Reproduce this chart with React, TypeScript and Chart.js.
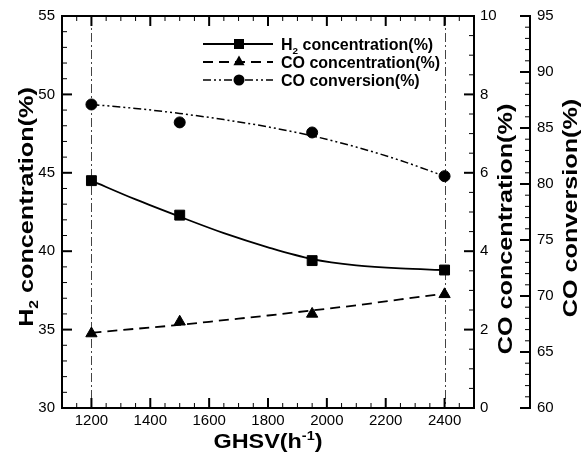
import React, { useEffect, useRef } from 'react';
import { Chart, registerables } from 'chart.js';

Chart.register(...registerables);

// ---------- data ----------
const ghsv = [1200, 1500, 1950, 2400];
const h2Conc = [44.5, 42.3, 39.4, 38.8];
const coConc = [1.9, 2.2, 2.4, 2.9];
const coConv = [87.1, 85.5, 84.6, 80.7];

// fitted trend curves
const fitGhsv = [1200, 1350, 1500, 1650, 1800, 1950, 2100, 2250, 2400];
const h2Fit = [44.5, 43.3, 42.2, 41.15, 40.25, 39.5, 39.1, 38.9, 38.8];
const coConcFit = [1.92, 2.02, 2.12, 2.24, 2.36, 2.49, 2.62, 2.77, 2.92];
const coConvFit = [87.1, 86.75, 86.3, 85.75, 85.1, 84.3, 83.3, 82.1, 80.7];

const refLines = [1200, 2400];
const xTickValues = [1200, 1400, 1600, 1800, 2000, 2200, 2400];

type Seg = { t: string; scale?: number; dy?: number };
const legendLabels: Seg[][] = [
  [{ t: 'H' }, { t: '2', scale: 0.62, dy: 4 }, { t: ' concentration(%)' }],
  [{ t: 'CO concentration(%)' }],
  [{ t: 'CO conversion(%)' }],
];
const xTitle: Seg[] = [{ t: 'GHSV(h' }, { t: '-1', scale: 0.62, dy: -8 }, { t: ')' }];
const yTitle: Seg[] = [{ t: 'H' }, { t: '2', scale: 0.62, dy: 5 }, { t: ' concentration(%)' }];
const y1Title: Seg[] = [{ t: 'CO concentration(%)' }];
const y2Title: Seg[] = [{ t: 'CO conversion(%)' }];

const FAM = "'Liberation Sans', Arial, Helvetica, sans-serif";

const styles = [
  { dash: [] as number[], width: 1.8, marker: 'rect' },
  { dash: [10, 6], width: 1.8, marker: 'triangle' },
  { dash: [8, 3, 2, 3, 2, 3], width: 1.5, marker: 'circle' },
];

function drawRich(ctx: CanvasRenderingContext2D, segs: Seg[], size: number, x: number, y: number, angle: number, stretch: number, align: 'center' | 'left' = 'center') {
  ctx.save();
  ctx.translate(x, y);
  ctx.rotate(angle);
  ctx.scale(stretch, 1);
  ctx.textBaseline = 'alphabetic';
  ctx.textAlign = 'left';
  ctx.fillStyle = '#000';
  const widths = segs.map((s) => {
    ctx.font = `bold ${size * (s.scale || 1)}px ${FAM}`;
    return ctx.measureText(s.t).width;
  });
  const total = widths.reduce((a, b) => a + b, 0);
  let cx = align === 'center' ? -total / 2 : 0;
  segs.forEach((s, i) => {
    ctx.font = `bold ${size * (s.scale || 1)}px ${FAM}`;
    ctx.fillText(s.t, cx, s.dy || 0);
    cx += widths[i];
  });
  ctx.restore();
}

function drawMarker(ctx: CanvasRenderingContext2D, kind: string, x: number, y: number) {
  ctx.beginPath();
  if (kind === 'rect') {
    ctx.rect(x - 5, y - 5, 10, 10);
  } else if (kind === 'triangle') {
    ctx.moveTo(x, y - 6.5);
    ctx.lineTo(x + 5.6, y + 3.3);
    ctx.lineTo(x - 5.6, y + 3.3);
    ctx.closePath();
  } else {
    ctx.arc(x, y, 5.5, 0, Math.PI * 2);
  }
  ctx.fill();
}

function tickRow(ctx: CanvasRenderingContext2D, scale: any, from: number, to: number, step: number, majorEvery: number, fixed: number, dir: number, horizontal: boolean) {
  const n = Math.round((to - from) / step);
  for (let i = 0; i <= n; i++) {
    const v = from + i * step;
    const r = v / majorEvery;
    const major = Math.abs(r - Math.round(r)) < 1e-6;
    const len = major ? 10 : 5;
    ctx.lineWidth = major ? 2 : 1;
    const p = scale.getPixelForValue(v);
    ctx.beginPath();
    if (horizontal) {
      ctx.moveTo(p, fixed);
      ctx.lineTo(p, fixed + dir * len);
    } else {
      ctx.moveTo(fixed, p);
      ctx.lineTo(fixed + dir * len, p);
    }
    ctx.stroke();
  }
}

const decorPlugin = {
  id: 'decor',
  beforeDatasetsDraw(chart: any) {
    const { ctx, chartArea: ca, scales } = chart;
    ctx.save();
    ctx.strokeStyle = '#444';
    ctx.lineWidth = 1;
    ctx.setLineDash([9, 3, 2, 3]);
    refLines.forEach((v) => {
      const px = Math.round(scales.x.getPixelForValue(v)) + 0.5;
      ctx.beginPath();
      ctx.moveTo(px, ca.top);
      ctx.lineTo(px, ca.bottom);
      ctx.stroke();
    });
    ctx.restore();
  },
  afterDatasetsDraw(chart: any) {
    const { ctx, chartArea: ca, scales } = chart;
    const { x, y, y1, y2 } = scales;
    ctx.save();
    ctx.strokeStyle = '#000';
    ctx.fillStyle = '#000';
    ctx.setLineDash([]);
    // frame
    ctx.lineWidth = 2;
    ctx.strokeRect(ca.left, ca.top, ca.right - ca.left, ca.bottom - ca.top);
    // detached CO conversion axis
    const ax2 = y2.left;
    ctx.beginPath();
    ctx.moveTo(ax2, ca.top - 1);
    ctx.lineTo(ax2, ca.bottom + 1);
    ctx.stroke();
    // ticks
    tickRow(ctx, x, 1100, 2500, 50, 200, ca.bottom, -1, true);
    tickRow(ctx, x, 1100, 2500, 50, 200, ca.top, 1, true);
    tickRow(ctx, y, 30, 55, 1, 5, ca.left, 1, false);
    tickRow(ctx, y1, 0, 10, 0.5, 2, ca.right, -1, false);
    tickRow(ctx, y2, 60, 95, 1, 5, ax2, -1, false);

    // axis titles
    const midY = (ca.top + ca.bottom) / 2;
    drawRich(ctx, xTitle, 20, (ca.left + ca.right) / 2, 448, 0, 1.17);
    drawRich(ctx, yTitle, 21, y.left + 33, midY - 5, -Math.PI / 2, 1.2);
    drawRich(ctx, y1Title, 21, y1.left + 38, midY + 17, -Math.PI / 2, 1.2);
    drawRich(ctx, y2Title, 21, y2.left + 47, midY - 4, -Math.PI / 2, 1.2);

    // legend
    const rows = [44, 62, 80];
    const x0 = 203, x1 = 273, xm = 239, xt = 281;
    rows.forEach((ry, i) => {
      const st = styles[i];
      ctx.lineWidth = st.width;
      ctx.setLineDash(st.dash);
      ctx.beginPath();
      ctx.moveTo(x0, ry);
      ctx.lineTo(x1, ry);
      ctx.stroke();
      ctx.setLineDash([]);
      drawMarker(ctx, st.marker, xm, ry);
      drawRich(ctx, legendLabels[i], 16, xt, ry + 6, 0, 1, 'left');
    });
    ctx.restore();
  },
};

export default function App() {
  const ref = useRef<HTMLCanvasElement | null>(null);
  useEffect(() => {
    if (!ref.current) return;
    const pts = (xs: number[], ys: number[]) => xs.map((v, i) => ({ x: v, y: ys[i] }));
    const tickFont = { family: FAM, size: 15 };
    const plain = (v: any) => String(v);
    const chart = new Chart(ref.current, {
      type: 'scatter',
      data: {
        datasets: [
          { label: 'H2 points', data: pts(ghsv, h2Conc), yAxisID: 'y', pointStyle: 'rect', pointRadius: 7, backgroundColor: '#000', borderColor: '#000', showLine: false },
          { label: 'CO conc points', data: pts(ghsv, coConc), yAxisID: 'y1', pointStyle: 'triangle', pointRadius: 6.5, backgroundColor: '#000', borderColor: '#000', showLine: false },
          { label: 'CO conv points', data: pts(ghsv, coConv), yAxisID: 'y2', pointStyle: 'circle', pointRadius: 5.5, backgroundColor: '#000', borderColor: '#000', showLine: false },
          { label: 'H2 fit', data: pts(fitGhsv, h2Fit), yAxisID: 'y', showLine: true, pointRadius: 0, borderColor: '#000', borderWidth: styles[0].width, borderDash: styles[0].dash, cubicInterpolationMode: 'monotone' },
          { label: 'CO conc fit', data: pts(fitGhsv, coConcFit), yAxisID: 'y1', showLine: true, pointRadius: 0, borderColor: '#000', borderWidth: styles[1].width, borderDash: styles[1].dash, cubicInterpolationMode: 'monotone' },
          { label: 'CO conv fit', data: pts(fitGhsv, coConvFit), yAxisID: 'y2', showLine: true, pointRadius: 0, borderColor: '#000', borderWidth: styles[2].width, borderDash: styles[2].dash, cubicInterpolationMode: 'monotone' },
        ] as any,
      },
      options: {
        responsive: false,
        animation: false,
        devicePixelRatio: 1,
        layout: { padding: { top: 16, left: 0, right: 0, bottom: 0 } },
        plugins: { legend: { display: false }, tooltip: { enabled: false } },
        scales: {
          x: {
            type: 'linear', position: 'bottom', min: 1100, max: 2500,
            grid: { display: false, drawTicks: false }, border: { display: false },
            ticks: { font: tickFont, color: '#000', padding: 4, maxRotation: 0, callback: plain },
            afterBuildTicks: (s: any) => { s.ticks = xTickValues.map((v) => ({ value: v })); },
            afterFit: (s: any) => { s.height = 49; },
          },
          y: {
            type: 'linear', position: 'left', min: 30, max: 55,
            grid: { display: false, drawTicks: false }, border: { display: false },
            ticks: { font: tickFont, color: '#000', padding: 7, stepSize: 5, callback: plain },
            afterFit: (s: any) => { s.width = 62; },
          },
          y1: {
            type: 'linear', position: 'right', min: 0, max: 10,
            grid: { display: false, drawTicks: false }, border: { display: false },
            ticks: { font: tickFont, color: '#000', padding: 6, stepSize: 2, callback: plain },
            afterFit: (s: any) => { s.width = 56; },
          },
          y2: {
            type: 'linear', position: 'right', min: 60, max: 95,
            grid: { display: false, drawTicks: false }, border: { display: false },
            ticks: { font: tickFont, color: '#000', padding: 7, stepSize: 5, callback: plain },
            afterFit: (s: any) => { s.width = 55; },
          },
        },
      } as any,
      plugins: [decorPlugin],
    });
    return () => chart.destroy();
  }, []);
  return (
    <div style={{ position: 'fixed', left: 0, top: 0, width: 585, height: 457, background: '#fff' }}>
      <canvas ref={ref} width={585} height={457} style={{ display: 'block' }} />
    </div>
  );
}
